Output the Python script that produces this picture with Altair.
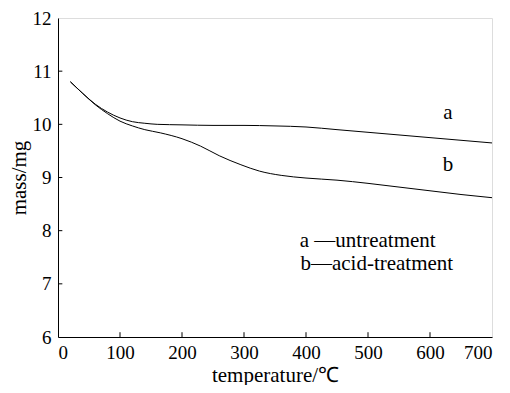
import altair as alt
import pandas as pd

# curve a (untreatment)
temp_a = [20, 40, 60, 80, 100, 120, 140, 160, 200, 250, 300, 350, 400, 450, 500, 550, 600, 650, 700]
mass_a = [10.8, 10.58, 10.38, 10.23, 10.12, 10.05, 10.02, 10.0, 9.99, 9.98, 9.98, 9.97, 9.95, 9.9, 9.85, 9.8, 9.75, 9.7, 9.65]
# curve b (acid-treatment)
temp_b = [20, 40, 60, 80, 100, 120, 140, 165, 200, 230, 260, 295, 325, 360, 400, 450, 500, 550, 600, 650, 700]
mass_b = [10.8, 10.58, 10.37, 10.2, 10.06, 9.97, 9.9, 9.84, 9.73, 9.59, 9.41, 9.24, 9.12, 9.04, 8.99, 8.95, 8.89, 8.82, 8.75, 8.68, 8.62]

x_ticks = [0, 100, 200, 300, 400, 500, 600, 700]
y_ticks = [6, 7, 8, 9, 10, 11, 12]
x_inner_ticks = [100, 200, 300, 400, 500, 600]
y_inner_ticks = [7, 8, 9, 10, 11]

curve_labels = ["a", "b"]
curve_label_x = [629, 629]
curve_label_y = [10.22, 9.24]

legend_texts = ["a —untreatment", "b—acid-treatment"]
legend_x = [390, 391]
legend_y = [7.8, 7.37]

FONT = "Liberation Serif"

df = pd.concat([
    pd.DataFrame({"temp": temp_a, "mass": mass_a, "curve": "a"}),
    pd.DataFrame({"temp": temp_b, "mass": mass_b, "curve": "b"}),
])

xs = alt.Scale(domain=[0, 700], nice=False, zero=False)
ys = alt.Scale(domain=[6, 12], nice=False, zero=False)

lines = alt.Chart(df).mark_line(color="black", strokeWidth=1, interpolate="monotone").encode(
    x=alt.X("temp:Q", scale=xs, title="temperature/℃",
            axis=alt.Axis(values=x_ticks, ticks=False, tickSize=0, labelPadding=6, grid=False,
                          labelFontSize=19, titleFontSize=21, titlePadding=2,
                          labelFont=FONT, titleFont=FONT, titleFontWeight="normal",
                          labelColor="black", titleColor="black", domainColor="black")),
    y=alt.Y("mass:Q", scale=ys, title="mass/mg",
            axis=alt.Axis(values=y_ticks, ticks=False, tickSize=0, labelPadding=7, grid=False,
                          labelFontSize=19, titleFontSize=21, titlePadding=3,
                          labelFont=FONT, titleFont=FONT, titleFontWeight="normal",
                          labelColor="black", titleColor="black", domainColor="black")),
    detail="curve:N",
)

xt = alt.Chart(pd.DataFrame({"t": x_inner_ticks})).mark_rule(color="black", strokeWidth=1).encode(
    x=alt.X("t:Q", scale=xs), y=alt.datum(6, scale=ys), y2=alt.datum(6.09))
yt = alt.Chart(pd.DataFrame({"m": y_inner_ticks})).mark_rule(color="black", strokeWidth=1).encode(
    y=alt.Y("m:Q", scale=ys), x=alt.datum(0, scale=xs), x2=alt.datum(7))

lab = alt.Chart(pd.DataFrame({"t": curve_label_x, "m": curve_label_y, "s": curve_labels})).mark_text(
    font=FONT, fontSize=21, color="black").encode(
    x=alt.X("t:Q", scale=xs), y=alt.Y("m:Q", scale=ys), text="s:N")

leg = alt.Chart(pd.DataFrame({"t": legend_x, "m": legend_y, "s": legend_texts})).mark_text(
    font=FONT, fontSize=21, color="black", align="left").encode(
    x=alt.X("t:Q", scale=xs), y=alt.Y("m:Q", scale=ys), text="s:N")

chart = alt.layer(lines, xt, yt, lab, leg).properties(
    width=434, height=319,
    autosize=alt.AutoSizeParams(type="none"),
    padding={"left": 50, "top": 10, "right": 10, "bottom": 48},
).configure_view(stroke="black", strokeWidth=1).configure(background="white")

chart.save("out.html", embed_options={"renderer": "svg", "actions": False})
